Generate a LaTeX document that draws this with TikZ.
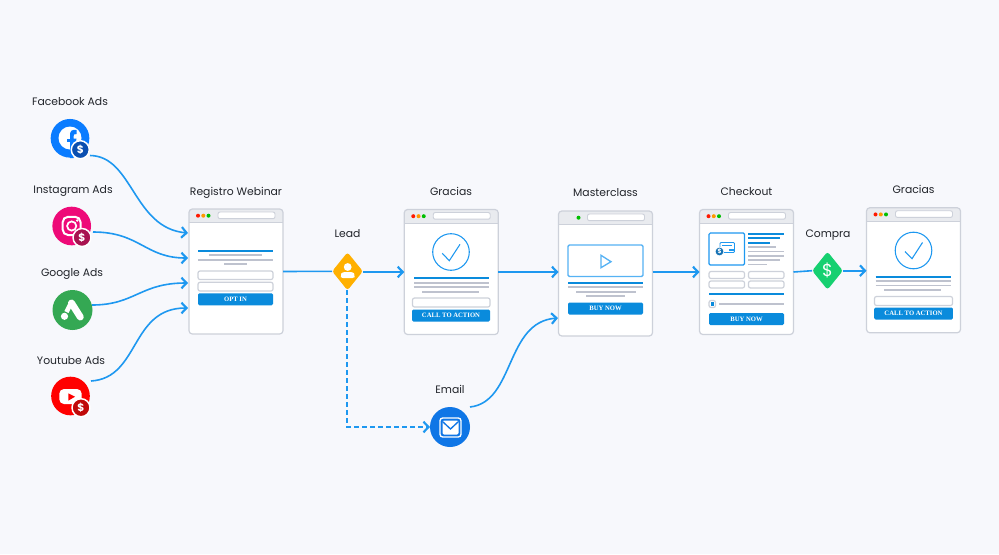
\documentclass[tikz,border=0pt]{standalone}
\usepackage{fontspec}
\setmainfont{Poppins}
\newfontfamily\btnfont{Liberation Serif}
\usetikzlibrary{arrows.meta,shapes.geometric}
\definecolor{bgcol}{HTML}{F7F8FC}
\definecolor{flowcol}{HTML}{1E98F0}
\definecolor{btncol}{HTML}{0A8BDC}
\definecolor{headcol}{HTML}{E9EBEF}
\definecolor{edgecol}{HTML}{CDD1DA}
\definecolor{greycol}{HTML}{BEC2CE}
\definecolor{inkcol}{HTML}{22252B}
\begin{document}
\begin{tikzpicture}[x=0.75pt,y=-0.75pt]
    \tikzset{>={Straight Barb[length=3.8pt,width=8pt,line width=1.6pt]}}
    \tikzset{
        flow/.style={draw=flowcol,line width=1.2pt},
        title/.style={text=inkcol,font=\fontsize{8.1}{10}\selectfont,inner sep=0pt,text height=6pt,text depth=1.7pt,yshift=-0.9pt},
        pagebox/.style={rectangle,rounded corners=2.5pt,fill=white,minimum width=70.5pt,minimum height=94pt,inner sep=0pt,outer sep=0pt},
        pageedge/.style={draw=edgecol,line width=0.9pt,rounded corners=2.5pt},
        blueline/.style={draw=btncol,line width=1.5pt},
        greyline/.style={draw=greycol,line width=1.3pt},
        inputbox/.style={draw=edgecol,line width=0.9pt,fill=white,rounded corners=1.5pt},
        button/.style={rectangle,fill=btncol,rounded corners=1pt,text=white,inner sep=0pt,minimum height=9pt,font=\btnfont\bfseries\fontsize{5}{6}\selectfont},
        adicon/.style={circle,minimum size=29pt,inner sep=0pt,outer sep=0pt},
        badge/.style={circle,draw=white,line width=1.1pt,minimum size=13.5pt,inner sep=0pt,text=white,font=\bfseries\fontsize{8}{8}\selectfont},
        gate/.style={diamond,rounded corners=2pt,minimum width=23pt,minimum height=28.5pt,inner sep=0pt,outer sep=0pt}
    }
    \fill[bgcol] (0,0) rectangle (999,554);
    \useasboundingbox (0,0) rectangle (999,554);

    % labels
    \node[title] (fblabel) at (70,101.5) {Facebook Ads};
    \node[title] (iglabel) at (73,189.5) {Instagram Ads};
    \node[title] (gglabel) at (72,272.5) {Google Ads};
    \node[title] (ytlabel) at (71,360.5) {Youtube Ads};
    \node[title] (reglabel) at (236,191.5) {Registro Webinar};
    \node[title] (leadlabel) at (347.5,233.5) {Lead};
    \node[title] (graclabel) at (451,191.5) {Gracias};
    \node[title] (masterlabel) at (605.5,192.5) {Masterclass};
    \node[title] (checklabel) at (746.5,191.5) {Checkout};
    \node[title] (compralabel) at (828,233) {Compra};
    \node[title] (gractwolabel) at (913.5,189.5) {Gracias};
    \node[title] (emaillabel) at (450,389) {Email};

    % pages
    \foreach \name/\cx/\cy/\gx in {regpage/236/271.5/-27.5,gracpage/451.25/272/-27.5,masterpage/605.5/273.5/-27,checkpage/746.5/272/-27.5,gractwopage/913.5/270.25/-27.5}{
        \node[pagebox] (\name) at (\cx,\cy) {};
        \begin{scope}[shift={(\cx,\cy)}]
            \fill[headcol,rounded corners=2.5pt] (-47,-62.5) rectangle (47,-52);
            \fill[headcol] (-47,-58) rectangle (47,-49);
            \draw[draw=edgecol,line width=0.6pt] (-47,-49) -- (47,-49);
            \draw[pageedge] (-47,-62.5) rectangle (47,62.5);
            \fill[green!75!black] (\gx,-55.8) circle (2);
            \draw[inputbox,line width=0.7pt] (-18,-59.5) rectangle (39,-52.8);
        \end{scope}
    }
    \foreach \cx/\cy in {236/271.5,451.25/272,746.5/272,913.5/270.25}{
        \fill[red!80!orange] (\cx-38,\cy-55.8) circle (2);
        \fill[orange!80!yellow] (\cx-32.7,\cy-55.8) circle (2);
    }

    % registro
    \draw[blueline] (198,251) -- (273,251);
    \draw[greyline] (209,255.3) -- (262,255.3);
    \draw[greyline] (198,259.7) -- (273,259.7);
    \draw[greyline] (224,264) -- (247,264);
    \draw[inputbox] (198,271) rectangle (273,279.5);
    \draw[inputbox] (198,282.3) rectangle (273,291);
    \node[button,minimum width=56.25pt] (optbtn) at (235.5,299.3) {OPT IN};

    % gracias
    \draw[draw=flowcol,line width=0.8pt] (451,252) circle (18.3);
    \draw[draw=flowcol,line width=0.8pt] (442.3,253.3) -- (449.3,260.7) -- (460,244.3);
    \draw[blueline] (414,278.3) -- (489,278.3);
    \draw[greyline] (414,282.8) -- (489,282.8);
    \draw[greyline] (414,287.2) -- (489,287.2);
    \draw[greyline] (422,291.7) -- (479,291.7);
    \draw[inputbox] (412.5,298) rectangle (490,307);
    \node[button,minimum width=58.5pt] (ctabtn) at (451,315.5) {CALL TO ACTION};

    % masterclass
    \draw[draw=flowcol!75,line width=1pt,rounded corners=1pt] (568,245) rectangle (643,276.5);
    \draw[draw=flowcol!75,line width=1pt] (601,255.3) -- (611,261.7) -- (601,267.7) -- cycle;
    \draw[blueline] (568,283) -- (643,283);
    \draw[greyline] (568,287.3) -- (643,287.3);
    \draw[greyline] (576,292) -- (636,292);
    \draw[greyline] (586,296.3) -- (625,296.3);
    \node[button,minimum width=56.25pt] (buybtn) at (605.5,308.5) {BUY NOW};

    % checkout
    \draw[draw=flowcol,line width=0.9pt,rounded corners=1pt] (709,233) rectangle (744.5,265);
    \draw[draw=flowcol,line width=0.7pt,rounded corners=0.8pt] (720,242.5) rectangle (734.5,252.5);
    \fill[flowcol] (722,244.5) rectangle (732,246);
    \fill[flowcol] (729,248.5) rectangle (735,251);
    \node[circle,draw=white,fill=flowcol!75!black,line width=0.4pt,minimum size=6.5pt,inner sep=0pt,text=white,font=\bfseries\fontsize{4.5}{5}\selectfont] (paycoin) at (719.5,251.5) {\$};
    \foreach \rowy/\rowx in {233.5/784,238/780,242.5/770}
        \draw[blueline] (748,\rowy) -- (\rowx,\rowy);
    \foreach \rowy/\rowx in {247/776,251.5/784,256/784,260.2/780,264.5/767}
        \draw[greyline,line width=1.1pt] (748,\rowy) -- (\rowx,\rowy);
    \foreach \rowy in {271.5,281}{
        \draw[inputbox] (709,\rowy) rectangle (744.5,\rowy+7);
        \draw[inputbox] (748.5,\rowy) rectangle (784,\rowy+7);
    }
    \draw[blueline] (709,294.3) -- (784,294.3);
    \draw[inputbox] (709,300.5) rectangle (715.5,307.5);
    \fill[btncol] (710.5,302) rectangle (714,306);
    \draw[greyline] (719,304) -- (784,304);
    \node[button,minimum width=56.25pt] (paybtn) at (746.5,319) {BUY NOW};

    % gracias 2
    \draw[draw=flowcol,line width=0.8pt] (913.5,250.5) circle (18.3);
    \draw[draw=flowcol,line width=0.8pt] (905,251.5) -- (912,258.7) -- (922.5,242.5);
    \draw[blueline] (875.5,276.7) -- (951,276.7);
    \draw[greyline] (875.5,281) -- (951,281);
    \draw[greyline] (875.5,285.5) -- (951,285.5);
    \draw[greyline] (884,290) -- (941,290);
    \draw[inputbox] (874.5,296.5) rectangle (952.5,305.5);
    \node[button,minimum width=59pt] (ctatwobtn) at (913.5,313.5) {CALL TO ACTION};

    % ad icons
    \node[adicon,fill={rgb,255:red,10;green,124;blue,255}] (fbicon) at (70,138.3) {};
    \fill[white] (70,138) circle (11.5);
    \fill[fill={rgb,255:red,10;green,124;blue,255}] (70,158) -- (70,135) .. controls (70,130.5) and (72,129.5) .. (76.5,130) -- (76.5,134) .. controls (74,134) and (73.5,134.5) .. (73.5,136.5) -- (73.5,138.5) -- (76.5,138.5) -- (76,142) -- (73.5,142) -- (73.5,158) -- cycle;
    \fill[fill={rgb,255:red,10;green,124;blue,255}] (66.5,138.5) rectangle (71,142);
    \node[badge,fill={rgb,255:red,11;green,79;blue,176}] (fbbadge) at (80.3,149.7) {\$};

    \node[adicon,fill={rgb,255:red,238;green,10;blue,120}] (igicon) at (71.7,226) {};
    \draw[white,line width=1.5pt,rounded corners=4pt] (62.7,216.8) rectangle (80.5,235);
    \draw[white,line width=1.3pt] (71.7,226) circle (4.6);
    \fill[white] (77.3,220.5) circle (1.4);
    \node[badge,fill={rgb,255:red,168;green,18;blue,80}] (igbadge) at (82,237.5) {\$};

    \node[adicon,fill={rgb,255:red,52;green,168;blue,83},minimum size=30pt] (ggicon) at (72.5,310) {};
    \draw[white,line width=5.2pt,line cap=round] (71.5,303) -- (80.3,317);
    \draw[white,line width=3.4pt] (70.5,304) -- (66.5,312);
    \fill[white] (64.5,316.3) circle (3.6);

    \node[adicon,fill={rgb,255:red,255;green,0;blue,0}] (yticon) at (70.5,396) {};
    \fill[white,rounded corners=3.5pt] (59.3,389) rectangle (81.7,404);
    \fill[red] (68.3,393.3) -- (75,396.7) -- (68.3,400.7) -- cycle;
    \node[badge,fill={rgb,255:red,192;green,10;blue,10}] (ytbadge) at (81,407.7) {\$};

    % gates
    \node[gate,fill={rgb,255:red,255;green,176;blue,0}] (leadgate) at (347.5,271.3) {};
    \fill[white] (347.7,267) circle (3.9);
    \fill[white,rounded corners=1.5pt] (340.8,278) -- (340.8,275.5) .. controls (341.5,272.5) and (344,272) .. (347.7,272) .. controls (351.5,272) and (354,272.5) .. (354.5,275.5) -- (354.5,278) -- cycle;
    \node[gate,fill={rgb,255:red,22;green,208;blue,112}] (compragate) at (827.5,270.7) {};
    \node[text=white,inner sep=0pt,font=\fontsize{13}{13}\selectfont] (compratag) at (827.5,270.7) {\$};

    % email
    \node[adicon,minimum size=30pt,fill={rgb,255:red,15;green,118;blue,230}] (mailicon) at (450,427) {};
    \draw[white,line width=1pt,rounded corners=2pt] (440,418) rectangle (461,437);
    \fill[white,rounded corners=1pt] (442.5,420.5) rectangle (458.5,434.5);
    \draw[draw={rgb,255:red,15;green,118;blue,230},line width=1pt] (442.5,421.5) -- (450.5,429) -- (458.5,421.5);

    % connectors
    \coordinate (fbout) at (90,155.5);
    \coordinate (igout) at (93,232);
    \coordinate (ggout) at (92,305);
    \coordinate (ytout) at (91,381);
    \coordinate (regfb) at (188,233);
    \coordinate (regig) at (188,258);
    \coordinate (reggg) at (188,283);
    \coordinate (regyt) at (188,308);
    \coordinate (mailout) at (470,407);
    \coordinate (masterin) at (558,318);
    \coordinate (dashcorner) at (346.9,427);

    \draw[flow,->] (fbout) .. controls (133,156) and (133,228) .. (regfb);
    \draw[flow,->] (igout) .. controls (140,232) and (145,258) .. (regig);
    \draw[flow,->] (ggout) .. controls (135,305) and (140,283) .. (reggg);
    \draw[flow,->] (ytout) .. controls (140,378) and (130,308) .. (regyt);
    \draw[flow] (regpage.east) -- (leadgate.west);
    \draw[flow,->] (leadgate.east |- gracpage.west) -- (gracpage.west);
    \draw[flow,->] (gracpage.east) -- (masterpage.west |- gracpage.east);
    \draw[flow,->] (masterpage.east |- checkpage.west) -- (checkpage.west);
    \draw[flow] (checkpage.east) -- (compragate.west);
    \draw[flow,->] (compragate.east) -- (gractwopage.west |- compragate.east);
    \draw[flow,->,dash pattern=on 3.4pt off 2.6pt] (dashcorner |- leadgate.south) -- (dashcorner) -- (mailicon.west);
    \draw[flow,->] (mailout) .. controls (515,402) and (505,322) .. (masterin);
\end{tikzpicture}
\end{document}
